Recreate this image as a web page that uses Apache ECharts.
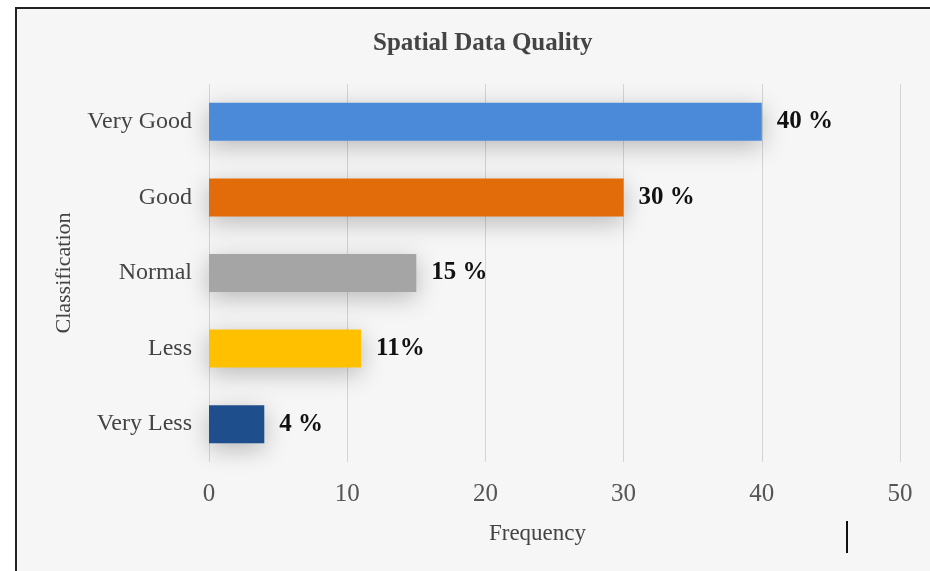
<!DOCTYPE html>
<html>
<head>
<meta charset="utf-8">
<script src="https://cdn.jsdelivr.net/npm/echarts@6/dist/echarts.min.js"></script>
<style>
html,body{margin:0;padding:0;background:#ffffff;}
#c{width:930px;height:571px;}
</style>
</head>
<body>
<div id="c"></div>
<script>
const categories = ['Very Less', 'Less', 'Normal', 'Good', 'Very Good'];
const values = [4, 11, 15, 30, 40];
const valueLabels = ['4 %', '11%', '15 %', '30 %', '40 %'];
const barColors = ['#1f4e8c', '#ffc000', '#a5a5a5', '#e36c0a', '#4a8ad8'];
const xTicks = [0, 10, 20, 30, 40, 50];

const chart = echarts.init(document.getElementById('c'));
const serif = '"Liberation Serif", "DejaVu Serif", serif';
chart.setOption({
  animation: false,
  backgroundColor: '#ffffff',
  graphic: [
    { type: 'rect', z: -10, shape: { x: 16, y: 8, width: 930, height: 580 },
      style: { fill: '#f6f6f6', stroke: '#222', lineWidth: 2 } },
    { type: 'line', shape: { x1: 847, y1: 521, x2: 847, y2: 553 },
      style: { stroke: '#111', lineWidth: 2 } }
  ],
  title: {
    text: 'Spatial Data Quality', left: 368, top: 26,
    textStyle: { fontFamily: serif, fontSize: 25, fontWeight: 'bold', color: '#444' }
  },
  grid: { left: 209, right: 30, top: 84, bottom: 109, containLabel: false },
  xAxis: {
    type: 'value', min: 0, max: 50, interval: 10,
    name: 'Frequency', nameLocation: 'middle', nameGap: 60,
    nameTextStyle: { fontFamily: serif, fontSize: 23, color: '#444', padding: [0, 34, 0, 0] },
    axisLine: { show: false }, axisTick: { show: false },
    axisLabel: { fontFamily: serif, fontSize: 25, color: '#555', margin: 20,
      formatter: v => xTicks.includes(v) ? String(v) : '' },
    splitLine: { show: true, lineStyle: { color: '#d4d4d4', width: 1 } }
  },
  yAxis: {
    type: 'category', data: categories,
    name: 'Classification', nameLocation: 'middle', nameGap: 134, nameRotate: 90,
    nameTextStyle: { fontFamily: serif, fontSize: 22, color: '#444' },
    axisLine: { show: false }, axisTick: { show: false },
    axisLabel: { fontFamily: serif, fontSize: 24, color: '#444', margin: 17 }
  },
  series: [{
    type: 'bar', barWidth: 38,
    data: values.map((v, i) => ({ value: v, itemStyle: { color: barColors[i] } })),
    itemStyle: { shadowBlur: 24, shadowColor: 'rgba(0,0,0,0.25)', shadowOffsetY: 6 },
    label: {
      show: true, position: 'right', distance: 15,
      fontFamily: serif, fontSize: 25, fontWeight: 'bold', color: '#111',
      formatter: p => valueLabels[p.dataIndex]
    }
  }]
});
</script>
</body>
</html>
